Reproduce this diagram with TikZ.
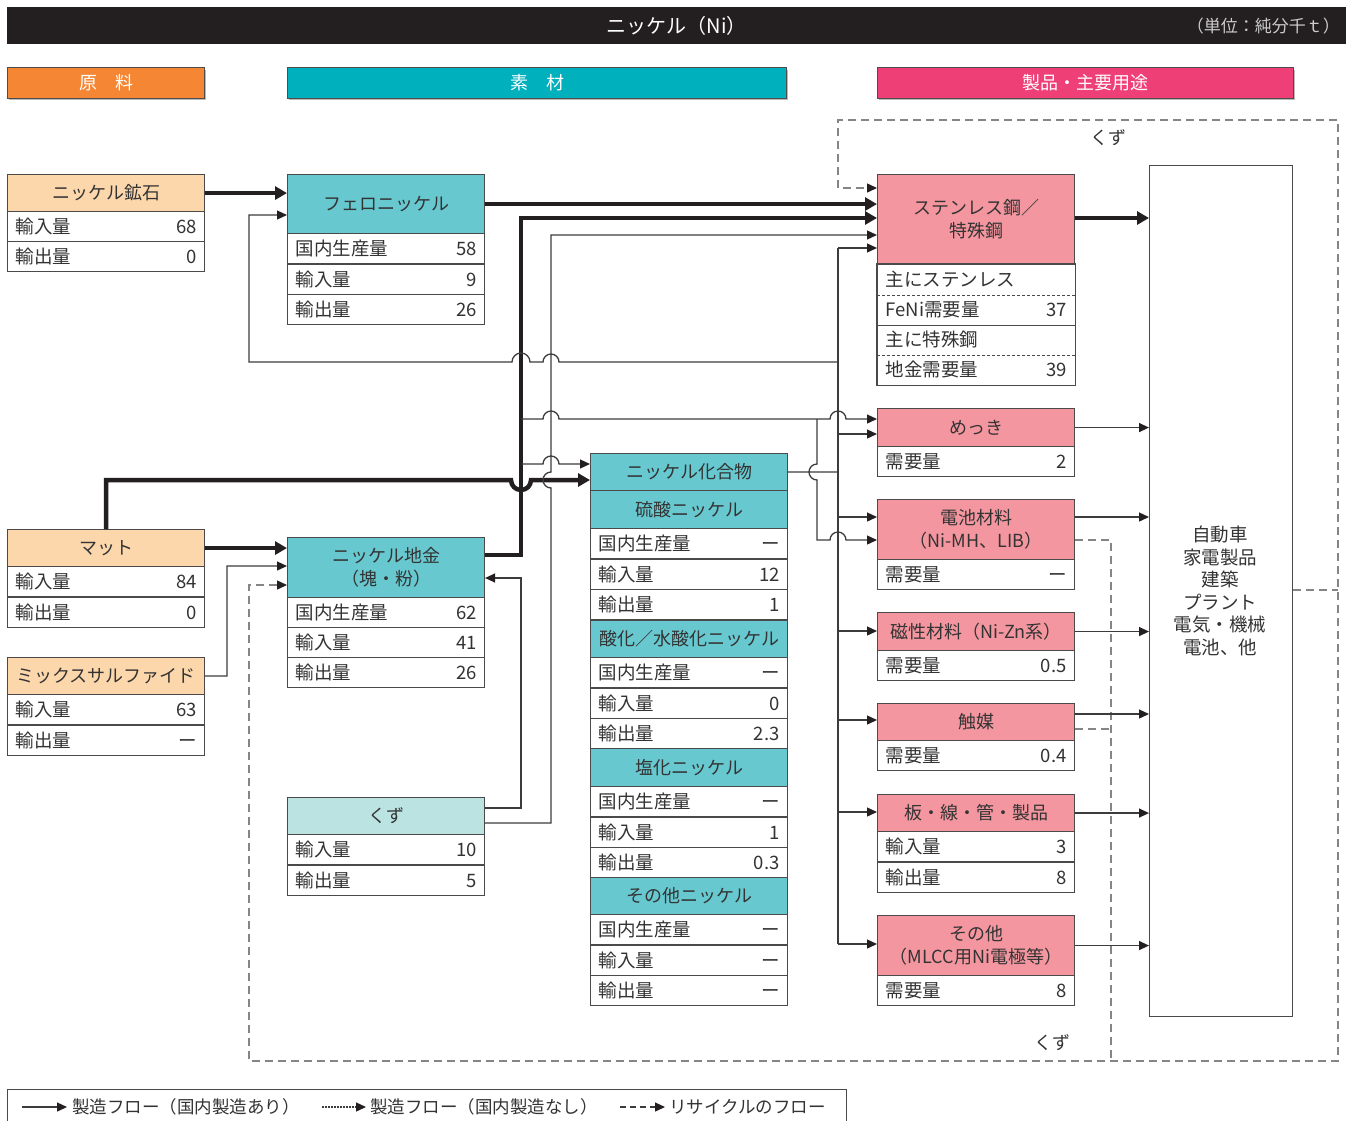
\documentclass[tikz,border=0pt]{standalone}
\usepackage{fontspec}
\setmainfont{Noto Sans CJK JP}
\usetikzlibrary{arrows.meta}
\definecolor{blk}{HTML}{231F20}
\definecolor{bd}{HTML}{4A4A4A}
\definecolor{ln}{HTML}{3C3C3C}
\definecolor{dsh}{HTML}{858585}
\definecolor{txt}{HTML}{333333}
\definecolor{catO}{HTML}{F58634}
\definecolor{catT}{HTML}{00B0BD}
\definecolor{catP}{HTML}{EE3F77}
\definecolor{rawH}{HTML}{FDD7AC}
\definecolor{matH}{HTML}{67C8CF}
\definecolor{scrH}{HTML}{BAE3E2}
\definecolor{prdH}{HTML}{F4969F}
\newcommand{\myhead}[6]{\node[hd,fill=#6,minimum height=#5pt] (#1) at (#2,#3) {#4};}
\newcommand{\myrow}[5]{\node[rw] (#1) at (#2,#3) {#4\hfill #5};}
\begin{document}
\begin{tikzpicture}[x=1pt,y=-1pt,
 hd/.style={draw=bd,line width=1.1pt,anchor=north west,minimum width=197pt,inner sep=0pt,align=center,font=\fontsize{18}{23}\selectfont,text=txt},
 rw/.style={draw=bd,line width=1.1pt,fill=white,anchor=north west,minimum width=197pt,minimum height=30pt,inner xsep=8pt,inner ysep=0pt,text width=181pt,align=left,font=\fontsize{18.5}{20}\selectfont,text=txt},
 rwn/.style={rw,draw=none},
 catbar/.style={draw=blk!80,line width=1pt,anchor=north west,minimum height=31pt,inner sep=0pt,text=white,font=\fontsize{18}{20}\selectfont},
 lbl/.style={inner sep=2pt,text=txt,font=\fontsize{18}{22}\selectfont},
 thn/.style={draw=ln,line width=1.3pt},
 thk/.style={draw=blk,line width=4.5pt},
 dsd/.style={draw=dsh,line width=1.4pt,dash pattern=on 8pt off 5pt},
 arr/.style={-{Triangle[length=10pt,width=9pt,color=blk]}},
 arrk/.style={-{Triangle[length=12pt,width=13pt]}},
]
\useasboundingbox (0,0) rectangle (1353,1120);
\fill[white] (0,0) rectangle (1353,1120);

% title bar
\node[fill=blk,anchor=north west,minimum width=1339pt,minimum height=37pt,inner sep=0pt] (bar) at (7,7) {};
\node[inner sep=2pt,text=white,font=\fontsize{20}{22}\selectfont] (ttl) at (bar.center) {ニッケル（Ni）};
\node[inner sep=2pt,text=gray!40,anchor=east,font=\fontsize{17}{20}\selectfont] (unit) at (1342,26) {（単位：純分千ｔ）};

% category bars
\fill[gray!55] (9,70) rectangle (206,100);
\fill[gray!55] (289,70) rectangle (788,100);
\fill[gray!55] (879,70) rectangle (1295,100);
\node[catbar,fill=catO,minimum width=197pt] (c1) at (7,67) {原　料};
\node[catbar,fill=catT,minimum width=499pt] (c2) at (287,67) {素　材};
\node[catbar,fill=catP,minimum width=416pt] (c3) at (877,67) {製品・主要用途};

% raw materials
\myhead{ore}{7}{174}{ニッケル鉱石}{37}{rawH}
\myrow{ore1}{7}{211}{輸入量}{68}
\myrow{ore2}{7}{241}{輸出量}{0}
\myhead{mat}{7}{529}{マット}{37}{rawH}
\myrow{mat1}{7}{566}{輸入量}{84}
\myrow{mat2}{7}{597}{輸出量}{0}
\myhead{mix}{7}{657}{ミックスサルファイド}{37}{rawH}
\myrow{mix1}{7}{694}{輸入量}{63}
\myrow{mix2}{7}{725}{輸出量}{ー}

% materials column 1
\myhead{fe}{287}{174}{フェロニッケル}{59}{matH}
\myrow{fe1}{287}{233}{国内生産量}{58}
\myrow{fe2}{287}{264}{輸入量}{9}
\myrow{fe3}{287}{294}{輸出量}{26}
\myhead{ni}{287}{537}{ニッケル地金\\（塊・粉）}{60}{matH}
\myrow{ni1}{287}{597}{国内生産量}{62}
\myrow{ni2}{287}{627}{輸入量}{41}
\myrow{ni3}{287}{657}{輸出量}{26}
\myhead{kz}{287}{797}{くず}{37}{scrH}
\myrow{kz1}{287}{834}{輸入量}{10}
\myrow{kz2}{287}{865}{輸出量}{5}

% materials column 2
\myhead{cmp}{590}{453}{ニッケル化合物}{37}{matH}
\myhead{sul}{590}{490}{硫酸ニッケル}{38}{matH}
\myrow{sul1}{590}{528}{国内生産量}{ー}
\myrow{sul2}{590}{559}{輸入量}{12}
\myrow{sul3}{590}{589}{輸出量}{1}
\myhead{oxi}{590}{620}{酸化／水酸化ニッケル}{37}{matH}
\myrow{oxi1}{590}{657}{国内生産量}{ー}
\myrow{oxi2}{590}{688}{輸入量}{0}
\myrow{oxi3}{590}{718}{輸出量}{2.3}
\myhead{chl}{590}{748}{塩化ニッケル}{38}{matH}
\myrow{chl1}{590}{786}{国内生産量}{ー}
\myrow{chl2}{590}{817}{輸入量}{1}
\myrow{chl3}{590}{847}{輸出量}{0.3}
\myhead{oth}{590}{877}{その他ニッケル}{37}{matH}
\myrow{oth1}{590}{914}{国内生産量}{ー}
\myrow{oth2}{590}{945}{輸入量}{ー}
\myrow{oth3}{590}{975}{輸出量}{ー}

% products
\myhead{ss}{877}{174}{ステンレス鋼／\\特殊鋼}{90}{prdH}
\node[rwn] (ss1) at (877,264) {主にステンレス};
\node[rwn] (ss2) at (877,294) {FeNi需要量\hfill 37};
\node[rwn] (ss3) at (877,324) {主に特殊鋼};
\node[rwn] (ss4) at (877,354) {地金需要量\hfill 39};
\draw[bd,line width=1.1pt] (ss1.north west) rectangle (ss4.south east);
\draw[bd,line width=1.1pt,dash pattern=on 3pt off 2pt] (ss1.south west) -- (ss1.south east);
\draw[bd,line width=1.1pt] (ss2.south west) -- (ss2.south east);
\draw[bd,line width=1.1pt,dash pattern=on 3pt off 2pt] (ss3.south west) -- (ss3.south east);
\myhead{pl}{877}{408}{めっき}{38}{prdH}
\myrow{pl1}{877}{446}{需要量}{2}
\myhead{bat}{877}{499}{電池材料\\（Ni-MH、LIB）}{60}{prdH}
\myrow{bat1}{877}{559}{需要量}{ー}
\myhead{mag}{877}{612}{磁性材料（Ni-Zn系）}{38}{prdH}
\myrow{mag1}{877}{650}{需要量}{0.5}
\myhead{cata}{877}{703}{触媒}{37}{prdH}
\myrow{cata1}{877}{740}{需要量}{0.4}
\myhead{pipe}{877}{794}{板・線・管・製品}{37}{prdH}
\myrow{pipe1}{877}{831}{輸入量}{3}
\myrow{pipe2}{877}{862}{輸出量}{8}
\myhead{etc}{877}{915}{その他\\（MLCC用Ni電極等）}{60}{prdH}
\myrow{etc1}{877}{975}{需要量}{8}

% final uses
\node[draw=bd,line width=1.1pt,anchor=north west,minimum width=143pt,minimum height=851pt,inner sep=0pt] (use) at (1149,165) {};
\node[align=center,inner sep=0pt,font=\fontsize{18.5}{22.6}\selectfont,text=txt] (uset) at (1220,591) {自動車\\家電製品\\建築\\プラント\\電気・機械\\電池、他};

% recycle (dashed)
\draw[dsd,{Triangle[length=10pt,width=9pt,color=blk]}-{Triangle[length=10pt,width=9pt,color=blk]}] (ni.west |- 0,585) -- (249,585) -- (249,1061) -- (1338,1061) -- (1338,120) -- (838,120) -- (838,188) -- (ss.west |- 0,188);
\draw[dsd] (bat.east |- 0,540) -- (1111,540) -- (1111,1061);
\draw[dsd] (cata.east |- 0,729) -- (1111,729);
\draw[dsd] (use.east |- 0,590) -- (1338,590);
\node[lbl] (kzt1) at (1108,138) {くず};
\node[lbl] (kzt2) at (1052,1043) {くず};

% thick flows
\draw[thk,arrk] (ore.east) -- (fe.west |- ore.east);
\draw[thk,arrk] (fe.east) -- (ss.west |- fe.east);
\draw[thk,arrk] (ni.east |- 0,555) -- (521,555) -- (521,218) -- (ss.west |- 0,218);
\draw[thk,arrk] (mat.east) -- (ni.west |- mat.east);
\draw[thk,arrk] (mat.north) -- (mat.north |- 0,480) -- (511,480) arc[start angle=180,end angle=0,radius=10] -- (cmp.west |- 0,480);

% thin flows
\draw[thn,arr] (838,362) -- (559,362) arc[start angle=0,end angle=-180,radius=8] -- (530,362) arc[start angle=0,end angle=-180,radius=9] -- (249,362) -- (249,215) -- (fe.west |- 0,215);
\draw[thn,arr] (kz.east |- 0,823) -- (551,823) -- (551,488) arc[start angle=90,end angle=270,radius=8] -- (551,235) -- (ss.west |- 0,235);
\draw[thn,arr] (kz.east |- 0,808) -- (521,808) -- (521,578) -- (ni.east |- 0,578);
\draw[thn,arr] (521,419) -- (543,419) arc[start angle=180,end angle=360,radius=8] -- (830,419) arc[start angle=180,end angle=360,radius=8] -- (pl.west |- 0,419);
\draw[thn,arr] (817,419) -- (817,464) arc[start angle=270,end angle=90,radius=8] -- (817,540) -- (830,540) arc[start angle=180,end angle=360,radius=8] -- (bat.west |- 0,540);
\draw[thn,arr] (521,464) -- (543,464) arc[start angle=180,end angle=360,radius=8] -- (cmp.west |- 0,464);
\draw[thn] (cmp.east) -- (838,472);
\draw[thn] (838,248) -- (838,944);
\draw[thn,arr] (838,248) -- (ss.west |- 0,248);
\draw[thn,arr] (838,434) -- (pl.west |- 0,434);
\draw[thn,arr] (838,517) -- (bat.west |- 0,517);
\draw[thn,arr] (838,631) -- (mag.west |- 0,631);
\draw[thn,arr] (838,720) -- (cata.west |- 0,720);
\draw[thn,arr] (838,812) -- (pipe.west |- 0,812);
\draw[thn,arr] (838,944) -- (etc.west |- 0,944);
\draw[thn,arr] (mix.east) -- (227,676) -- (227,566) -- (ni.west |- 0,566);

% outputs to final uses
\draw[thk,arrk] (ss.east |- 0,218) -- (use.west |- 0,218);
\draw[thn,arr] (pl.east) -- (use.west |- pl.east);
\draw[thn,arr] (bat.east |- 0,517) -- (use.west |- 0,517);
\draw[thn,arr] (mag.east) -- (use.west |- mag.east);
\draw[thn,arr] (cata.east |- 0,714) -- (use.west |- 0,714);
\draw[thn,arr] (pipe.east) -- (use.west |- pipe.east);
\draw[thn,arr] (etc.east) -- (use.west |- etc.east);

% legend
\node[draw=bd,line width=1.1pt,anchor=north west,minimum width=839pt,minimum height=40pt,inner sep=0pt] (leg) at (7,1089) {};
\coordinate (la1) at (22,1107);
\coordinate (la2) at (67,1107);
\coordinate (lb1) at (322,1107);
\coordinate (lb2) at (366,1107);
\coordinate (lc1) at (620,1107);
\coordinate (lc2) at (665,1107);
\draw[thn,arr] (la1) -- (la2);
\draw[thn,arr,dash pattern=on 1.5pt off 1.5pt] (lb1) -- (lb2);
\draw[thn,arr,dash pattern=on 6pt off 4pt] (lc1) -- (lc2);
\node[lbl,anchor=west,font=\fontsize{17.5}{20}\selectfont] (lt1) at (70,1107) {製造フロー（国内製造あり）};
\node[lbl,anchor=west,font=\fontsize{17.5}{20}\selectfont] (lt2) at (368,1107) {製造フロー（国内製造なし）};
\node[lbl,anchor=west,font=\fontsize{17.5}{20}\selectfont] (lt3) at (667,1107) {リサイクルのフロー};
\end{tikzpicture}
\end{document}
